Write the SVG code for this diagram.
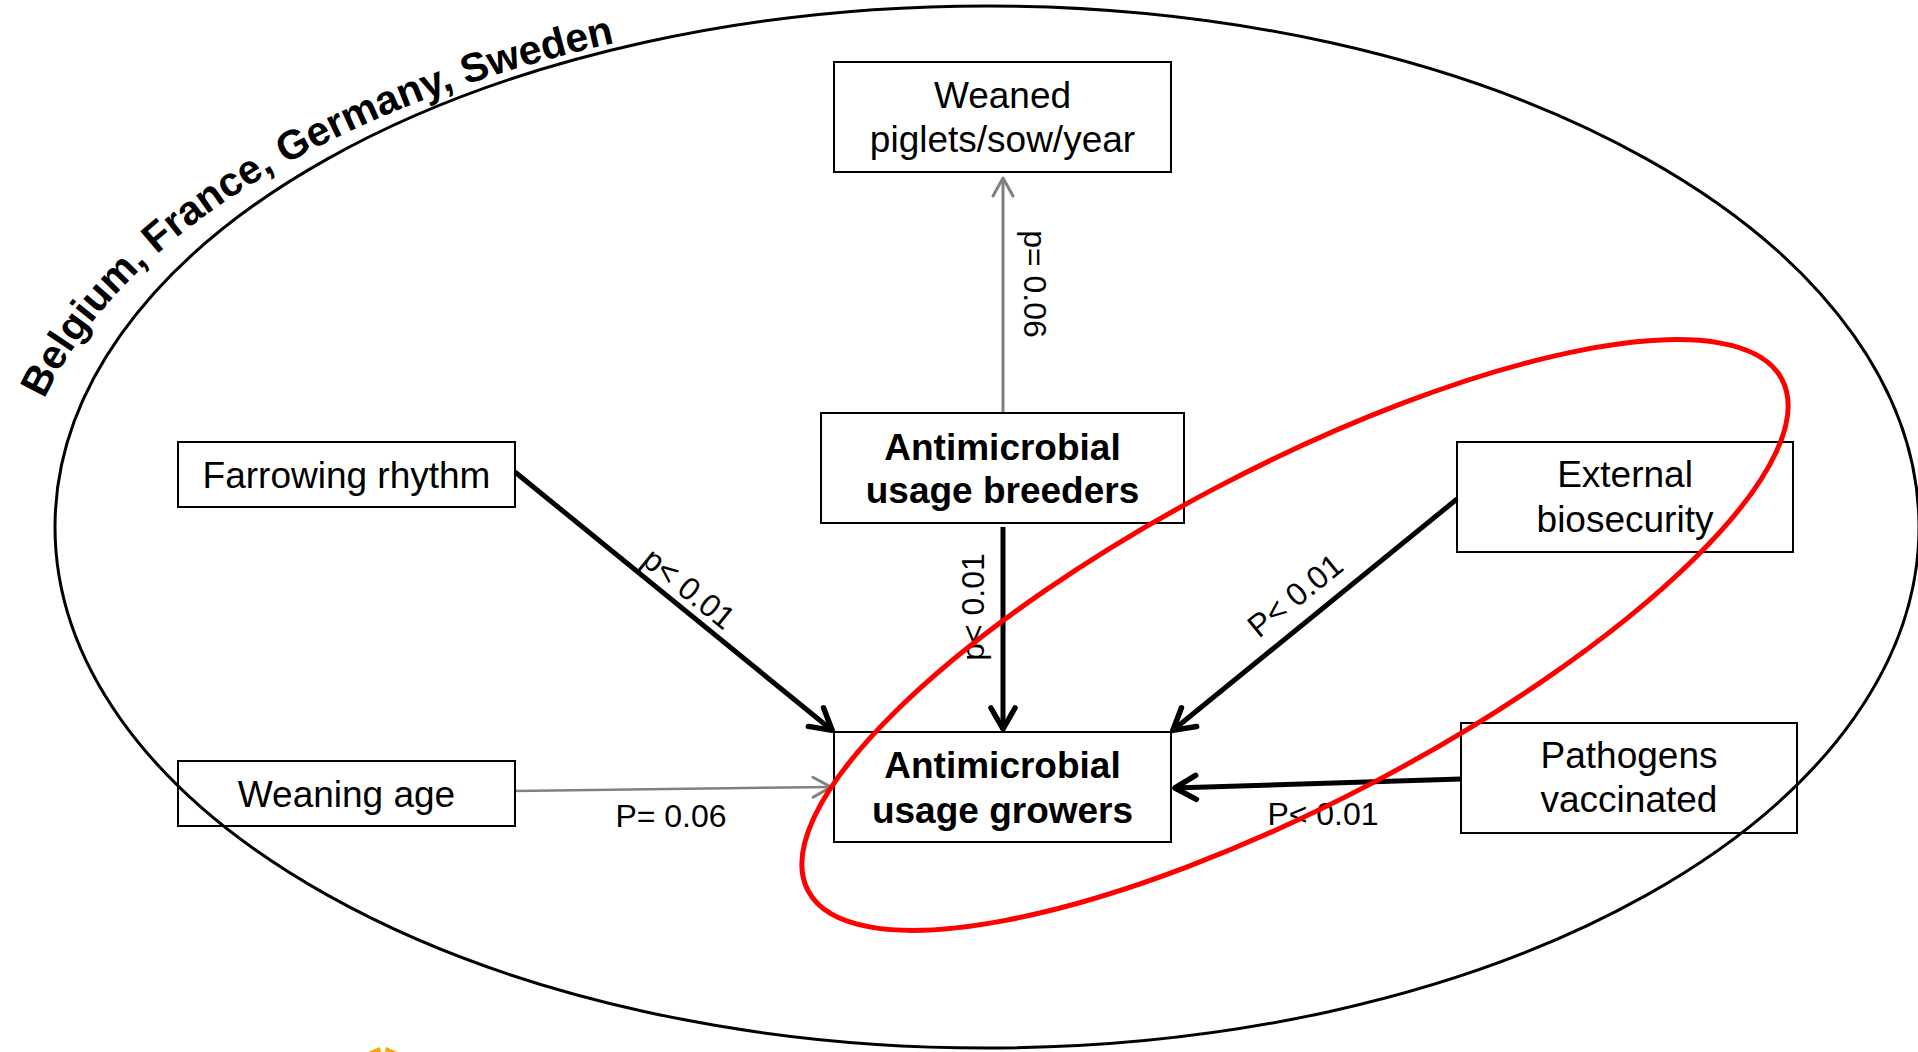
<svg xmlns="http://www.w3.org/2000/svg" width="1918" height="1052" viewBox="0 0 1918 1052">
  <style>
    .box { fill: none; stroke: #000; stroke-width: 2; }
    .nt { font-family: "Liberation Sans", Arial, sans-serif; font-size: 37px; fill: #000; text-anchor: middle; }
    .bold { font-weight: bold; }
    .lbl { font-family: "Liberation Sans", Arial, sans-serif; font-size: 32px; fill: #000; }
    .blk { stroke: #000; stroke-width: 5; fill: none; marker-end: url(#ahb); }
    .gry { stroke: #808080; fill: none; marker-end: url(#ahg); }
  </style>
  <defs>
    <marker id="ahb" markerUnits="userSpaceOnUse" viewBox="-30 -16 36 32" refX="0" refY="0" markerWidth="36" markerHeight="32" orient="auto">
      <path d="M-22,-12 L-1,0 L-22,12" fill="none" stroke="#000" stroke-width="5.5" stroke-linecap="round" stroke-linejoin="round"/>
    </marker>
    <marker id="ahg" markerUnits="userSpaceOnUse" viewBox="-24 -14 28 28" refX="0" refY="0" markerWidth="28" markerHeight="28" orient="auto">
      <path d="M-18,-10 L0,0 L-18,10" fill="none" stroke="#808080" stroke-width="3" stroke-linecap="round" stroke-linejoin="round"/>
    </marker>
    <path id="arcText" d="M 15,527 A 972 524 0 0 1 1959,527"/>
  </defs>

  <rect width="1918" height="1052" fill="#fff"/>

  <!-- outer region -->
  <g id="region">
    <ellipse cx="987" cy="527" rx="932" ry="521" fill="none" stroke="#000" stroke-width="3"/>
    <text font-family="'Liberation Sans', Arial, sans-serif" font-size="41" font-weight="bold" fill="#000">
      <textPath href="#arcText" startOffset="132">Belgium, France, Germany, Sweden</textPath>
    </text>
  </g>

  <!-- connectors -->
  <g id="connectors">
    <line class="blk" x1="515" y1="472" x2="833" y2="731"/>
    <line class="gry" x1="515" y1="791" x2="831" y2="787" stroke-width="2.5"/>
    <line class="blk" x1="1003" y1="527" x2="1003" y2="730"/>
    <line class="blk" x1="1457" y1="499" x2="1172" y2="731"/>
    <line class="blk" x1="1461" y1="779" x2="1174" y2="788" stroke-width="6"/>
    <line class="gry" x1="1003" y1="413" x2="1003" y2="178" stroke-width="3"/>

    <text class="lbl" text-anchor="middle" transform="translate(682,597) rotate(39)">p&lt; 0.01</text>
    <text class="lbl" text-anchor="middle" x="671" y="827">P= 0.06</text>
    <text class="lbl" text-anchor="middle" transform="translate(984,607) rotate(-90)">p&lt; 0.01</text>
    <text class="lbl" text-anchor="middle" transform="translate(1302,604) rotate(-39)">P&lt; 0.01</text>
    <text class="lbl" text-anchor="middle" x="1323" y="825">P&lt; 0.01</text>
    <text class="lbl" text-anchor="middle" transform="translate(1024,284) rotate(90)">p= 0.06</text>
  </g>

  <!-- nodes -->
  <g id="weaned">
    <rect class="box" x="834" y="62" width="337" height="110"/>
    <text class="nt" x="1002.5" y="108">Weaned</text>
    <text class="nt" x="1002.5" y="152">piglets/sow/year</text>
  </g>
  <g id="breeders">
    <rect class="box" x="821" y="413" width="363" height="110"/>
    <text class="nt bold" x="1002.5" y="460">Antimicrobial</text>
    <text class="nt bold" x="1002.5" y="503">usage breeders</text>
  </g>
  <g id="farrowing">
    <rect class="box" x="178" y="442" width="337" height="65"/>
    <text class="nt" x="346.5" y="488">Farrowing rhythm</text>
  </g>
  <g id="weaning">
    <rect class="box" x="178" y="761" width="337" height="65"/>
    <text class="nt" x="346.5" y="807">Weaning age</text>
  </g>
  <g id="growers">
    <rect class="box" x="834" y="732" width="337" height="110"/>
    <text class="nt bold" x="1002.5" y="778">Antimicrobial</text>
    <text class="nt bold" x="1002.5" y="823">usage growers</text>
  </g>
  <g id="external">
    <rect class="box" x="1457" y="442" width="336" height="110"/>
    <text class="nt" x="1625" y="487">External</text>
    <text class="nt" x="1625" y="532">biosecurity</text>
  </g>
  <g id="pathogens">
    <rect class="box" x="1461" y="723" width="336" height="110"/>
    <text class="nt" x="1629" y="768">Pathogens</text>
    <text class="nt" x="1629" y="812">vaccinated</text>
  </g>

  <!-- highlight -->
  <g id="highlight">
    <ellipse cx="1295" cy="635" rx="550" ry="167" transform="rotate(-27.7 1295 635)" fill="none" stroke="#ff0000" stroke-width="5"/>
  </g>

  <!-- partial logo at bottom edge -->
  <g id="logo" fill="#f5a800">
    <polygon points="368,1052 380,1047 381,1052"/>
    <polygon points="385,1052 386,1047 397,1052"/>
  </g>
</svg>
